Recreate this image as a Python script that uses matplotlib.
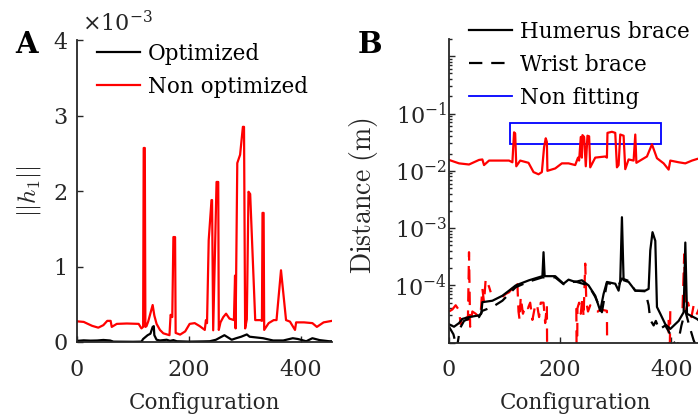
import numpy as np
import matplotlib.pyplot as plt
from matplotlib import ticker
from matplotlib.lines import Line2D
from matplotlib.patches import Rectangle

# ---- Panel A: ||h1|| (x 1e-3) per configuration ----
cfg_nonopt = [0, 12, 18, 27, 38, 47, 54, 60, 62, 71, 89, 110, 115, 118, 119, 121, 122, 124, 127, 131,
              135, 138, 142, 148, 154, 165, 167, 170, 172, 175, 176, 184, 193, 201, 210, 219, 228, 230,
              232, 235, 240, 241, 243, 249, 252, 253, 256, 261, 266, 272, 280, 282, 283, 286, 291, 296,
              298, 300, 303, 306, 309, 318, 327, 330, 331, 333, 334, 342, 351, 356, 364, 373, 380, 389,
              391, 405, 420, 428, 440, 455]
h1_nonopt = [0.274, 0.266, 0.245, 0.214, 0.19, 0.223, 0.28, 0.28, 0.2, 0.24, 0.245, 0.24, 0.18, 0.2,
             2.57, 2.57, 0.2, 0.21, 0.27, 0.38, 0.49, 0.35, 0.24, 0.16, 0.115, 0.09, 0.36, 0.33, 1.39,
             1.39, 0.12, 0.098, 0.14, 0.24, 0.25, 0.21, 0.16, 0.29, 0.25, 1.35, 1.88, 1.88, 0.155, 2.12,
             2.12, 0.16, 0.26, 0.33, 0.375, 0.31, 0.29, 0.88, 0.18, 2.37, 2.48, 2.85, 2.85, 0.18, 0.3,
             1.99, 1.96, 0.29, 0.29, 0.28, 1.71, 1.71, 0.16, 0.25, 0.29, 0.29, 0.95, 0.29, 0.27, 0.16,
             0.26, 0.26, 0.25, 0.2, 0.26, 0.28]

cfg_opt = [0, 12, 24, 36, 47, 59, 65, 100, 115, 118, 126, 131, 135, 137, 138, 142, 148, 160, 166, 172,
           178, 200, 225, 237, 248, 263, 276, 284, 293, 303, 308, 320, 332, 350, 368, 385, 394, 409,
           420, 433, 450, 455]
h1_opt = [0.015, 0.022, 0.018, 0.02, 0.027, 0.02, 0.005, 0.003, 0.005, 0.04, 0.09, 0.11, 0.2, 0.21,
          0.09, 0.03, 0.02, 0.03, 0.015, 0.025, 0.01, 0.005, 0.008, 0.01, 0.03, 0.09, 0.03, 0.05, 0.07,
          0.1, 0.07, 0.06, 0.05, 0.02, 0.02, 0.05, 0.04, 0.01, 0.05, 0.025, 0.01, 0.01]

# ---- Panel B: distance (m) per configuration ----
cfg_hum = [0, 9, 18, 24, 36, 54, 58, 60, 78, 96, 108, 120, 144, 168, 170, 172, 191, 206, 215, 227, 239,
           251, 263, 272, 278, 284, 299, 305, 308, 311, 314, 323, 335, 353, 359, 362, 366, 371, 374, 380,
           389, 398, 413, 422, 425, 428, 446, 455]
dist_hum = [2.1e-5, 1.9e-5, 2.2e-5, 2.6e-5, 2.8e-5, 3.0e-5, 3.2e-5, 5.1e-5, 5.4e-5, 6.6e-5, 8.1e-5,
            1.0e-4, 1.23e-4, 1.45e-4, 3.8e-4, 1.45e-4, 1.45e-4, 1.07e-4, 1.26e-4, 1.15e-4, 1.23e-4,
            1.0e-4, 6.6e-5, 3.6e-5, 7.1e-5, 1.15e-4, 1.07e-4, 8.1e-5, 1.23e-4, 1.55e-3, 1.23e-4,
            1.15e-4, 8.1e-5, 8.1e-5, 8.7e-5, 4.1e-4, 8.5e-4, 6.0e-4, 4.2e-5, 3.2e-5, 2.1e-5, 1.74e-5,
            2.4e-5, 3.4e-5, 5.6e-4, 3.2e-5, 2.6e-5, 2.2e-5]

cfg_wri = [0, 8, 14, 20, 27, 40, 54, 60, 78, 96, 108, 120, 144, 168, 191, 206, 227, 251, 263, 275, 284,
           305, 311, 323, 335, 353, 359, 362, 368, 372, 378, 389, 398, 410, 418, 425, 432, 440, 446]
dist_wri = [1.9e-5, 1.4e-5, 8e-6, 1.8e-5, 2.4e-5, 2.75e-5, 2.8e-5, 3.6e-5, 4.2e-5, 5.4e-5, 7.1e-5,
            9.3e-5, 1.17e-4, 1.38e-4, 1.38e-4, 1.05e-4, 1.17e-4, 1.0e-4, 6.3e-5, 3.4e-5, 1.1e-4, 1.0e-4,
            1.32e-4, 1.2e-4, 8.1e-5, 7.9e-5, 4.5e-5, 2.5e-5, 2.0e-5, 2.4e-5, 1.7e-5, 2.0e-5, 1.4e-5,
            8e-6, 2.0e-5, 3.6e-5, 2.0e-5, 1.1e-5, 8e-6]

cfg_nf_upper = [0, 18, 36, 54, 60, 63, 72, 108, 114, 117, 119, 121, 128, 143, 152, 161, 167, 171, 174,
                176, 177, 191, 203, 215, 227, 232, 234, 237, 239, 240, 243, 246, 249, 252, 254, 263, 281,
                284, 285, 293, 299, 302, 305, 308, 314, 317, 323, 332, 335, 337, 347, 356, 365, 374, 386,
                395, 398, 413, 425, 437, 447, 455]
dist_nf_upper = [1.55e-2, 1.35e-2, 1.29e-2, 1.55e-2, 1.58e-2, 1.26e-2, 1.51e-2, 1.51e-2, 1.41e-2,
                 4.7e-2, 4.5e-2, 1.2e-2, 1.51e-2, 1.38e-2, 9.5e-3, 8.7e-3, 9.5e-3, 2.6e-2, 3.7e-2,
                 3.2e-2, 1.0e-2, 1.1e-2, 1.35e-2, 1.35e-2, 1.26e-2, 1.7e-2, 1.51e-2, 3.9e-2, 1.7e-2,
                 4.2e-2, 3.9e-2, 1.2e-2, 4.1e-2, 4.0e-2, 1.15e-2, 1.7e-2, 1.78e-2, 1.7e-2, 4.6e-2,
                 4.8e-2, 4.6e-2, 1.15e-2, 1.26e-2, 4.3e-2, 4.1e-2, 1.07e-2, 1.58e-2, 1.51e-2, 4.3e-2,
                 1.38e-2, 1.58e-2, 1.78e-2, 2.9e-2, 1.66e-2, 1.35e-2, 1.05e-2, 1.51e-2, 1.41e-2,
                 1.35e-2, 1.51e-2, 1.62e-2, 1.66e-2]

cfg_nf_lower = [0, 6, 12, 18, 21, 24, 30, 34, 36, 38, 42, 48, 54, 57, 60, 63, 66, 72, 75, 85,
                96, 102, 108, 114, 120, 123, 125, 127, 129, 133, 138, 142, 146, 150, 154, 158, 162, 165,
                170, 173, 176, 177, 200,
                229, 230, 231, 234, 237, 240, 242, 245, 247, 250, 254, 258, 263, 268, 272, 284, 285, 300,
                395, 396, 398, 404, 412,
                420, 423, 425, 430, 436, 440, 446, 450]
dist_nf_lower = [3.5e-5, 3.8e-5, 4.5e-5, 3.7e-5, 2.1e-5, 3.2e-5, 2.8e-5, 2.5e-5, 3.8e-4, 1.9e-5,
                 3.5e-5, 3.2e-5, 2.8e-5, 3.3e-5, 8.9e-5, 5.0e-5, 1.3e-4, 9.5e-5, 7.6e-5, np.nan,
                 6.3e-5, 7.1e-5, 7.6e-5, 8.9e-5, 8.3e-5, 1.05e-4, 3.5e-5, 2.5e-5, 6.3e-5, 3.2e-5,
                 4.5e-5, 4.0e-5, 5.0e-5, 2.5e-5, 4.0e-5, 4.8e-5, 2.8e-5, 5.0e-5, 5.0e-5, 2.2e-5,
                 4.5e-5, 1e-6, np.nan,
                 4.0e-5, 1e-6, 4.0e-5, 5.0e-5, 3.2e-5, 6.3e-5, 2.8e-5, 2.4e-4, 5.0e-5, 3.5e-5,
                 4.5e-5, 4.0e-5, 3.5e-5, 3.5e-5, 3.8e-5, 3.6e-5, 1e-6, np.nan,
                 2.5e-5, 1e-6, 4.0e-5, 4.2e-5, np.nan,
                 4.0e-5, 3.5e-4, 3.5e-5, 5.0e-5, 2.8e-5, 4.5e-5, 3.2e-5, 4.0e-5]

nonfit_box = [110, 382, 0.029, 0.068]   # x0, x1, y0, y1

plt.rcParams['font.family'] = 'DejaVu Serif'
plt.rcParams['mathtext.fontset'] = 'dejavuserif'

W, H = 698, 419
fig = plt.figure(figsize=(W / 100, H / 100), dpi=100)
INK = '#262626'


def add_ax(l, t, r, b):
    return fig.add_axes([l / W, 1 - b / H, (r - l) / W, (b - t) / H])


def style(ax):
    for s in ['top', 'right']:
        ax.spines[s].set_visible(False)
    for s in ['left', 'bottom']:
        ax.spines[s].set_color(INK)
        ax.spines[s].set_linewidth(1.3)
    ax.tick_params(which='both', direction='in', color=INK, labelcolor=INK,
                   labelsize=16, width=1.0)
    ax.tick_params(which='major', length=4)
    ax.tick_params(which='minor', length=2.5)
    ax.tick_params(axis='x', pad=12)


axA = add_ax(77, 40, 332, 342)
axB = add_ax(449, 39, 702, 342.7)

# panel A
axA.plot(cfg_opt, h1_opt, color='black', lw=1.6, label='Optimized')
axA.plot(cfg_nonopt, h1_nonopt, color='red', lw=1.6, label='Non optimized')
axA.set_xlim(0, 455)
axA.set_ylim(0, 4)
axA.set_xticks([0, 200, 400])
axA.set_yticks([0, 1, 2, 3, 4])
style(axA)
axA.tick_params(axis='y', pad=7)
axA.set_xlabel('Configuration', fontsize=15.5, color=INK)
axA.xaxis.set_label_coords(0.5, -0.165)
axA.set_ylabel(r'$||h_1||$', fontsize=18, color=INK, math_fontfamily='cm')
axA.yaxis.set_label_coords(-0.133, 0.5)
axA.legend(loc='upper left', bbox_to_anchor=(97 / W, 1 - 43 / H), bbox_transform=fig.transFigure,
           frameon=False, fontsize=15.5, borderpad=0, borderaxespad=0, handlelength=2.0,
           handletextpad=0.37, labelspacing=0.5)
fig.text(82 / W, 1 - 31 / H, r'$\times10^{-3}$', fontsize=16, color=INK)
fig.text(15 / W, 1 - 53 / H, 'A', fontsize=21, fontweight='bold')

# panel B
axB.set_yscale('log')
axB.plot(cfg_nf_upper, dist_nf_upper, color='red', lw=1.6)
axB.plot(cfg_nf_lower, dist_nf_lower, color='red', lw=1.6, dashes=(6, 4))
axB.plot(cfg_wri, dist_wri, color='black', lw=1.6, dashes=(6, 4))
axB.plot(cfg_hum, dist_hum, color='black', lw=1.6)
x0, x1, y0, y1 = nonfit_box
axB.add_patch(Rectangle((x0, y0), x1 - x0, y1 - y0, fill=False, edgecolor='blue', lw=1.3))
axB.set_xlim(0, 455)
axB.set_ylim(1e-5, 2)
axB.set_xticks([0, 200, 400])
axB.yaxis.set_major_locator(ticker.FixedLocator([1e-5, 1e-4, 1e-3, 1e-2, 1e-1, 1e0]))
axB.yaxis.set_minor_locator(ticker.LogLocator(base=10, subs=np.arange(2, 10), numticks=20))
axB.yaxis.set_minor_formatter(ticker.NullFormatter())
axB.yaxis.set_major_formatter(ticker.FuncFormatter(
    lambda v, p: r'$\mathdefault{10^{%d}}$' % round(np.log10(v)) if 1e-4 <= v <= 1e-1 * 1.01 else ''))
style(axB)
axB.tick_params(axis='y', pad=1.5)
axB.set_xlabel('Configuration', fontsize=15.5, color=INK)
axB.xaxis.set_label_coords(0.5, -0.162)
axB.set_ylabel(r'$\mathrm{Distance\ (m)}$', fontsize=20, color=INK, math_fontfamily='cm')
axB.yaxis.set_label_coords(-0.273, 0.483)
handles = [Line2D([], [], color='black', lw=1.6),
           Line2D([], [], color='black', lw=1.6, dashes=(6, 4)),
           Line2D([], [], color='blue', lw=1.3)]
axB.legend(handles, ['Humerus brace', 'Wrist brace', 'Non fitting'], loc='upper left',
           bbox_to_anchor=(469 / W, 1 - 21 / H), bbox_transform=fig.transFigure,
           frameon=False, fontsize=15.5, borderpad=0, borderaxespad=0, handlelength=2.0,
           handletextpad=0.37, labelspacing=0.5)
fig.text(358 / W, 1 - 53 / H, 'B', fontsize=21, fontweight='bold')

fig.savefig('out.png', dpi=100)
